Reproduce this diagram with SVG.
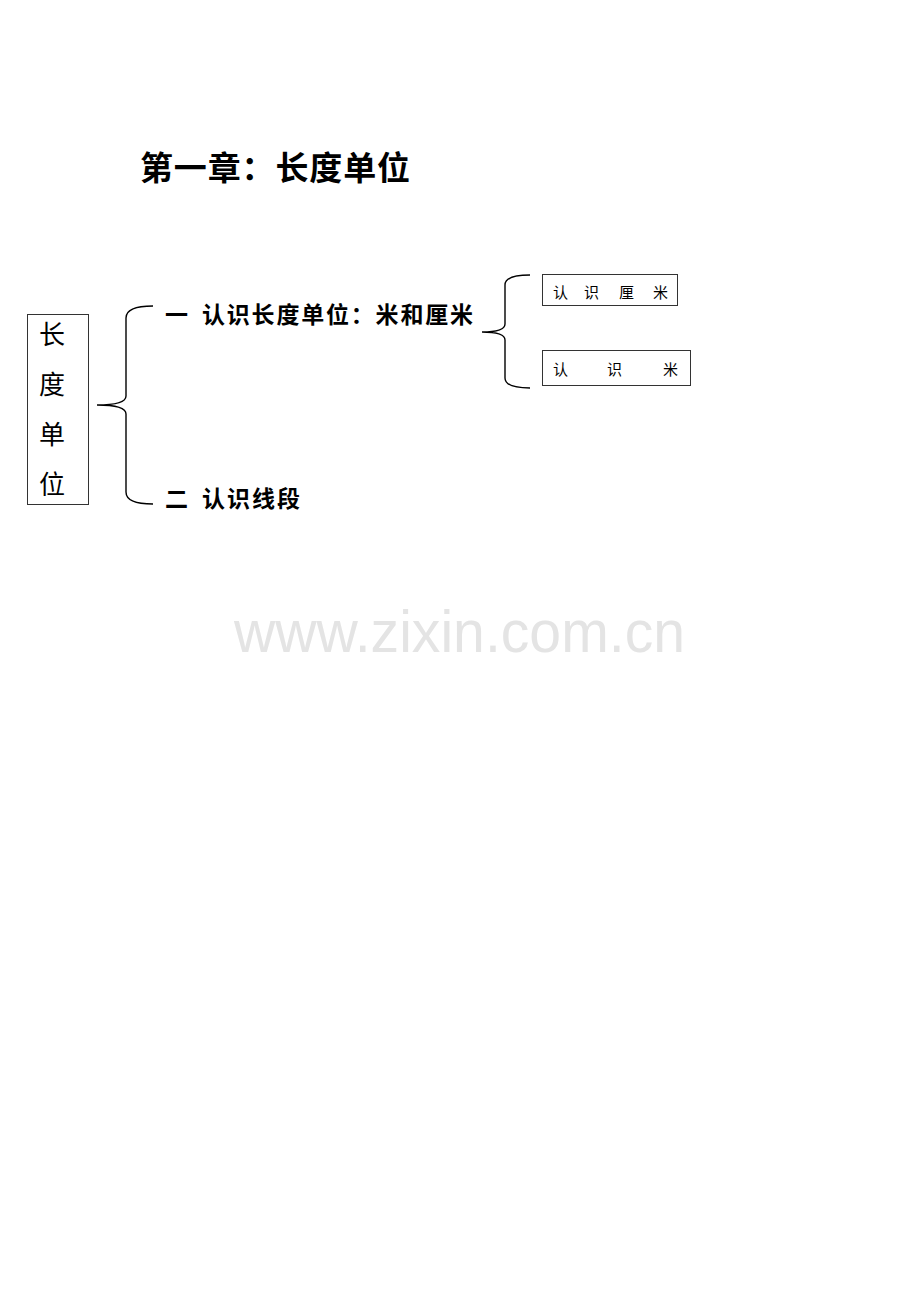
<svg xmlns="http://www.w3.org/2000/svg" width="920" height="1302" viewBox="0 0 920 1302">
<style>
.cjk{font-family:"Noto Sans CJK SC","Liberation Serif",sans-serif;fill:#000}
.b{font-weight:bold}
.m{font-weight:500}
.box{fill:none;stroke:#333;stroke-width:1}
.brace{fill:none;stroke:#000;stroke-width:1.4}
</style>
<rect width="920" height="1302" fill="#fff"/>
<g id="watermark">
<text x="234" y="652" font-family="Liberation Sans,Arial,sans-serif" font-size="60" fill="#e4e4e4" textLength="451" lengthAdjust="spacingAndGlyphs">www.zixin.com.cn</text>
</g>
<g id="title">
<text class="cjk b" x="140" y="180" font-size="33" textLength="270">第一章：长度单位</text>
</g>
<g id="root">
<rect class="box" x="27.5" y="314.5" width="61" height="190"/>
<text class="cjk" x="52" y="344" font-size="26" text-anchor="middle">长</text>
<text class="cjk" x="52" y="394" font-size="26" text-anchor="middle">度</text>
<text class="cjk" x="52" y="444" font-size="26" text-anchor="middle">单</text>
<text class="cjk" x="52" y="494" font-size="26" text-anchor="middle">位</text>
</g>
<g id="item1">
<text class="cjk b" x="165" y="323" font-size="23">一<tspan x="202" textLength="271">认识长度单位：米和厘米</tspan></text>
</g>
<g id="item2">
<text class="cjk b" x="165" y="507" font-size="23">二<tspan x="202" textLength="98">认识线段</tspan></text>
</g>
<g id="sub1">
<rect class="box" x="542.5" y="274.5" width="135" height="31"/>
<text class="cjk" y="298" font-size="15"><tspan x="553">认</tspan><tspan x="584">识</tspan><tspan x="619">厘</tspan><tspan x="653">米</tspan></text>
</g>
<g id="sub2">
<rect class="box" x="542.5" y="350.5" width="148" height="35"/>
<text class="cjk" y="375" font-size="15"><tspan x="553">认</tspan><tspan x="607">识</tspan><tspan x="663">米</tspan></text>
</g>
<g id="connectors">
<path class="brace" d="M153,306 Q126,306 126,318 L126,396 Q126,405 97,405 Q126,405 126,414 L126,492 Q126,504 153,504"/>
<path class="brace" d="M530,275 Q505,275 505,285 L505,324 Q505,332 482,332 Q505,332 505,340 L505,378 Q505,388 530,388"/>
</g>
</svg>
